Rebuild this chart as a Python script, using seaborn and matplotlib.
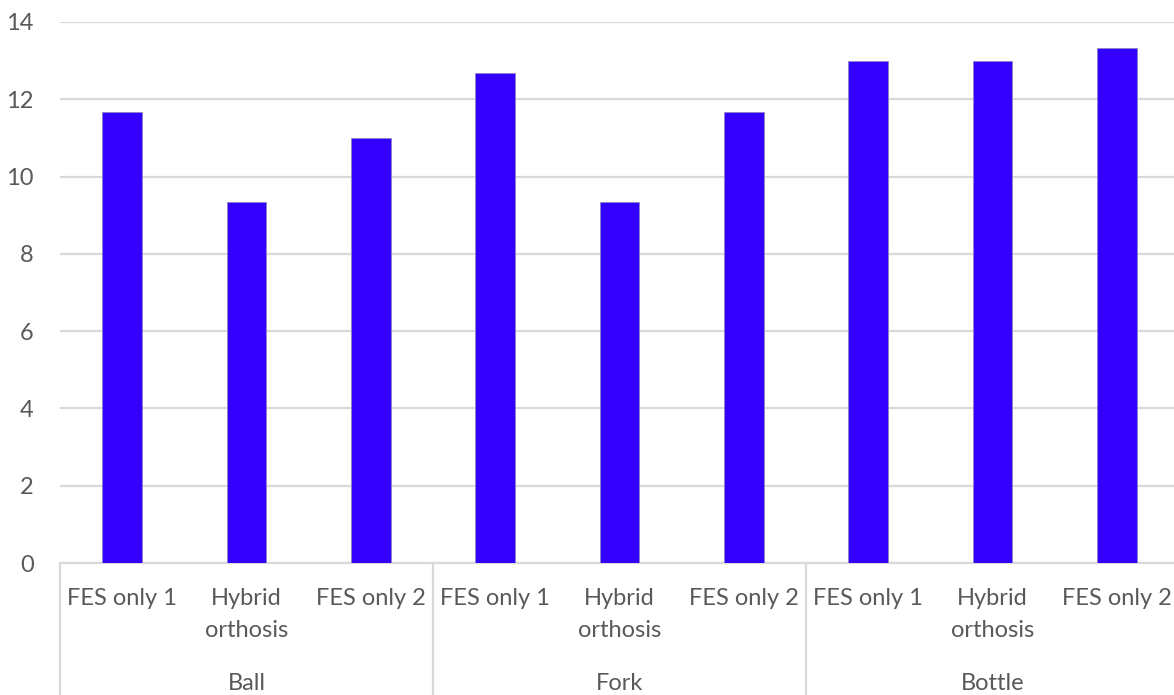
import pandas as pd
import seaborn as sns
import matplotlib.pyplot as plt

# Data
objects = ['Ball', 'Fork', 'Bottle']
conditions = ['FES only 1', 'Hybrid\northosis', 'FES only 2']
ball_vals = [11.67, 9.33, 11.0]
fork_vals = [12.67, 9.33, 11.67]
bottle_vals = [13.0, 13.0, 13.33]

rows = []
for obj, vals in zip(objects, [ball_vals, fork_vals, bottle_vals]):
    for cond, v in zip(conditions, vals):
        rows.append({'key': obj + '|' + cond, 'object': obj, 'condition': cond, 'value': v})
df = pd.DataFrame(rows)

sns.set_style('white')
plt.rcParams['font.family'] = ['Lato', 'DejaVu Sans']
text_col = '#595959'
grid_col = '#D9D9D9'

fig = plt.figure(figsize=(11.74, 6.95), dpi=100)
ax = fig.add_axes([60 / 1174, 132 / 695, 1124 / 1174, 541 / 695])

sns.barplot(data=df, x='key', y='value', order=list(df['key']), color='#3300FF',
            width=0.32, saturation=1, edgecolor='#8C86C8', linewidth=0.6, ax=ax, zorder=3)

ax.set_ylim(0, 14)
ax.set_yticks(range(0, 15, 2))
ax.yaxis.grid(True, color=grid_col, linewidth=1.6, zorder=0)
ax.set_axisbelow(True)
for s in ['left', 'right', 'top']:
    ax.spines[s].set_visible(False)
ax.spines['bottom'].set_color(grid_col)
ax.spines['bottom'].set_linewidth(1.6)

ax.set_xticks(range(len(df)))
ax.set_xticklabels(df['condition'], linespacing=1.65)
ax.tick_params(axis='x', length=0, pad=18, labelsize=17, labelcolor=text_col)
ax.tick_params(axis='y', length=0, pad=19, labelsize=17, labelcolor=text_col)
ax.set_xlabel('')
ax.set_ylabel('')
ax.set_xlim(-0.5, len(df) - 0.5 + 0.04)

# group labels and separators below the axis
trans = ax.get_xaxis_transform()
for i, obj in enumerate(objects):
    ax.text(i * 3 + 1, -0.222, obj, transform=trans, ha='center', va='center',
            fontsize=17, color=text_col, clip_on=False)
for xs in [-0.5, 2.5, 5.5]:
    ax.plot([xs, xs], [0, -0.25], transform=trans, color=grid_col, linewidth=1.6,
            clip_on=False)

fig.savefig('out.png', dpi=100)
